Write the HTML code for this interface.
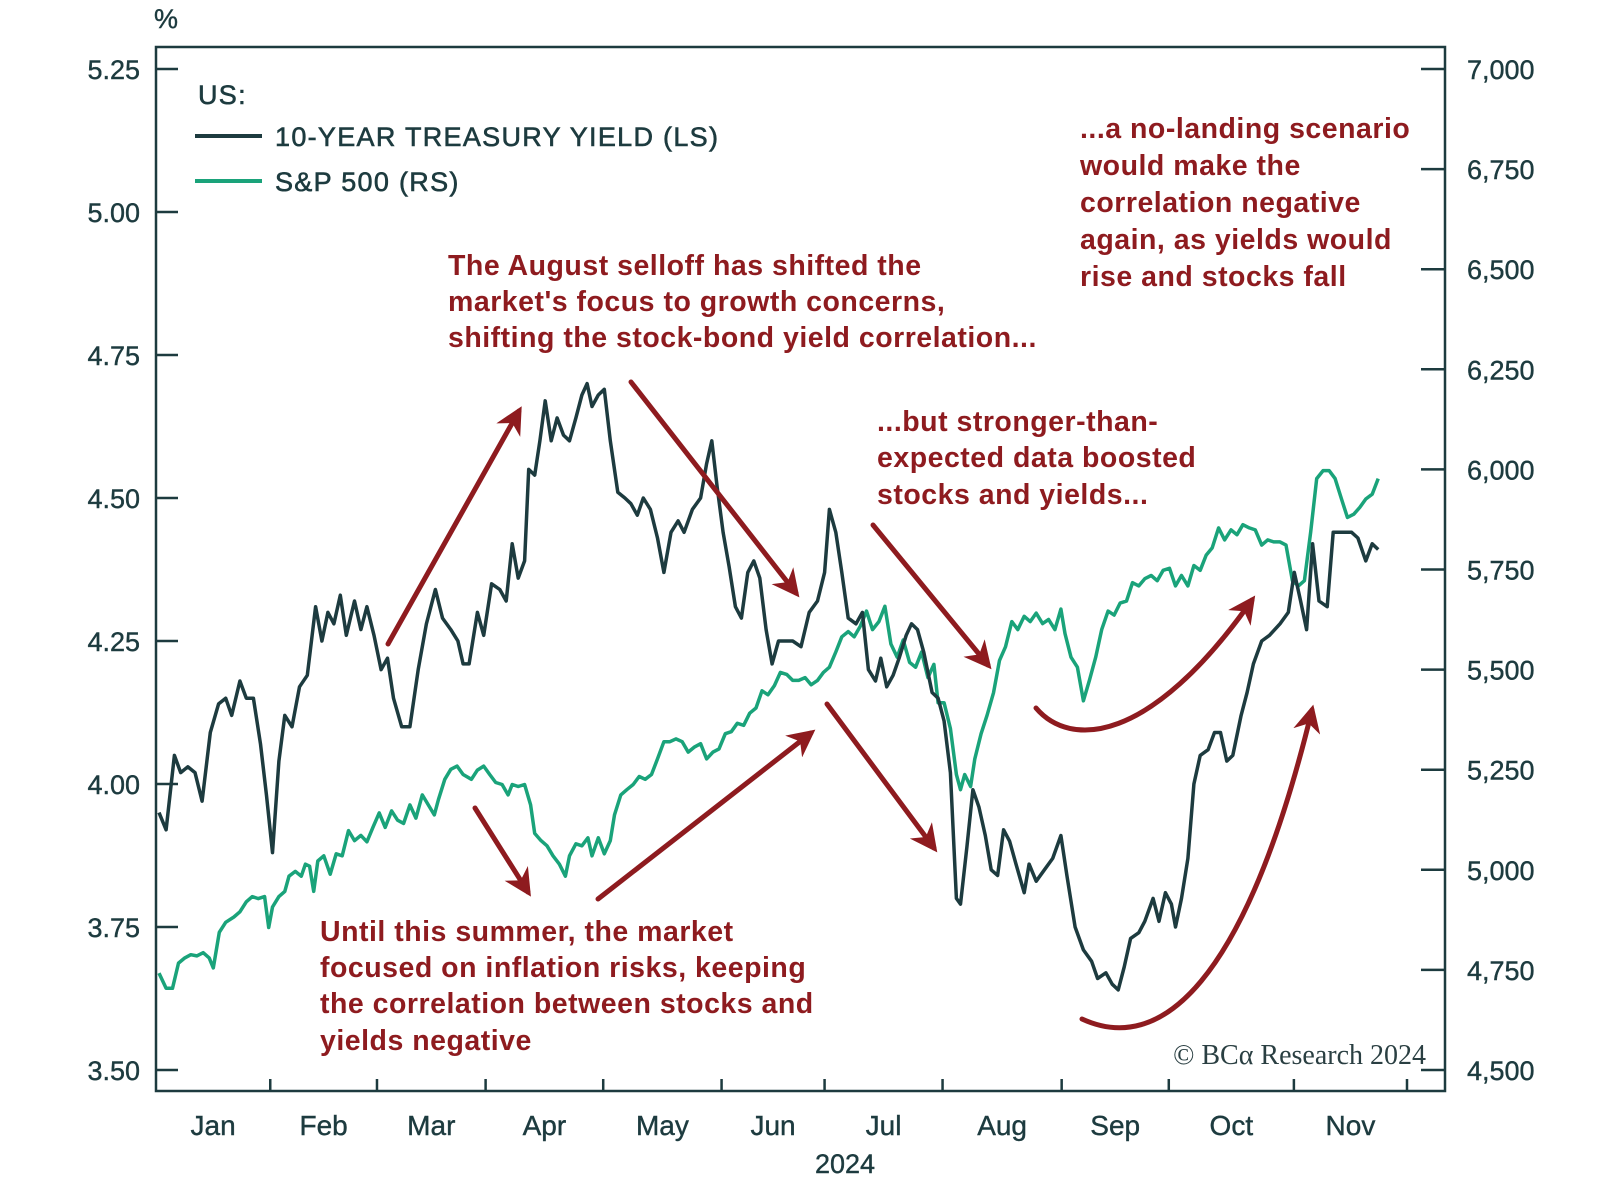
<!DOCTYPE html>
<html><head><meta charset="utf-8">
<style>
html,body{margin:0;padding:0;background:#fff;}
svg{display:block;}
text{font-family:"Liberation Sans",sans-serif;}
.tk{fill:#1d3b3f;font-size:27px;stroke:#1d3b3f;stroke-width:0.4px;}
.ann{fill:#8e1b1f;font-size:28.5px;font-weight:bold;letter-spacing:0.5px;}
.lg{fill:#1d3b3f;font-size:27px;stroke:#1d3b3f;stroke-width:0.6px;letter-spacing:1.3px;}
</style></head>
<body>
<svg id="chart" width="1600" height="1177" viewBox="0 0 1600 1177" xmlns="http://www.w3.org/2000/svg">
<defs>
<marker id="ah" viewBox="0 0 10 10" refX="8" refY="5" markerWidth="5.5" markerHeight="5.5" orient="auto-start-reverse" markerUnits="strokeWidth">
<path d="M0,0 L10,5 L0,10 L3,5 z" fill="#8e1b1f"/>
</marker>
</defs>
<text x="166" y="28" class="tk" text-anchor="middle">%</text>
<rect x="156" y="47" width="1289" height="1044" fill="none" stroke="#1d3b3f" stroke-width="2.5"/>
<g id="axes"></g>
<g id="series"></g>
<g>
<text x="198" y="104" class="lg">US:</text>
<line x1="195" y1="136" x2="262" y2="136" stroke="#1d3b3f" stroke-width="4"/>
<text x="275" y="146" class="lg">10-YEAR TREASURY YIELD (LS)</text>
<line x1="195" y1="181" x2="262" y2="181" stroke="#1aa37a" stroke-width="4"/>
<text x="275" y="191" class="lg">S&amp;P 500 (RS)</text>
</g>
<g>
<text class="ann" x="448" y="275">The August selloff has shifted the</text>
<text class="ann" x="448" y="311">market's focus to growth concerns,</text>
<text class="ann" x="448" y="347">shifting the stock-bond yield correlation...</text>
</g>
<g>
<text class="ann" x="1080" y="138">...a no-landing scenario</text>
<text class="ann" x="1080" y="175">would make the</text>
<text class="ann" x="1080" y="212">correlation negative</text>
<text class="ann" x="1080" y="249">again, as yields would</text>
<text class="ann" x="1080" y="286">rise and stocks fall</text>
</g>
<g>
<text class="ann" x="877" y="431">...but stronger-than-</text>
<text class="ann" x="877" y="467">expected data boosted</text>
<text class="ann" x="877" y="504">stocks and yields...</text>
</g>
<g>
<text class="ann" x="320" y="941">Until this summer, the market</text>
<text class="ann" x="320" y="977">focused on inflation risks, keeping</text>
<text class="ann" x="320" y="1013">the correlation between stocks and</text>
<text class="ann" x="320" y="1050">yields negative</text>
</g>
<text x="1426" y="1064" text-anchor="end" style="font-family:'Liberation Serif',serif;font-size:28px;fill:#2a3f42">© BCα Research 2024</text>
<g fill="none" stroke="#8e1b1f" stroke-width="5" stroke-linecap="round">
<line x1="388" y1="644" x2="519" y2="411" marker-end="url(#ah)"/>
<line x1="631" y1="382" x2="796" y2="593" marker-end="url(#ah)"/>
<line x1="475" y1="808" x2="528" y2="892" marker-end="url(#ah)"/>
<line x1="598" y1="899" x2="811" y2="733" marker-end="url(#ah)"/>
<line x1="827" y1="704" x2="934" y2="848" marker-end="url(#ah)"/>
<line x1="873" y1="525" x2="988" y2="665" marker-end="url(#ah)"/>
<path d="M1036,708 C1070,748 1150,745 1252,600" marker-end="url(#ah)"/>
<path d="M1082,1019 C1160,1055 1245,985 1312,710" marker-end="url(#ah)"/>
</g>
</svg>
<script>
const yieldDays=[0.8,2.7,4.9,6.6,8.5,10.4,12.3,14.5,16.7,18.6,
20.2,22.4,24.1,26.0,27.9,29.5,31.1,32.8,34.4,36.3,
38.3,40.4,42.6,44.3,45.9,47.5,49.2,50.8,53.0,54.7,
56.3,58.2,60.1,61.8,63.4,65.6,67.8,70.0,72.2,74.6,
76.5,78.7,80.6,82.0,83.6,85.8,87.5,89.6,91.8,93.5,
95.1,96.7,98.4,99.5,101.1,102.5,103.9,105.5,107.1,108.8,
110.4,112.1,113.7,115.1,116.4,118.1,119.7,121.3,123.3,125.2,
126.8,128.5,130.1,132.0,133.9,135.6,137.5,139.4,141.0,143.2,
145.4,147.0,148.4,149.8,151.4,153.0,154.7,156.3,158.0,159.6,
161.2,162.9,164.5,166.2,167.8,170.0,172.2,174.4,176.6,178.5,
179.8,181.5,183.1,184.8,186.9,188.6,190.2,192.1,193.5,195.1,
196.8,198.4,200.3,201.7,203.3,205.0,207.2,208.8,210.4,212.1,
213.7,214.8,216.5,218.1,219.7,221.4,223.0,224.7,226.3,227.9,
229.6,231.8,233.1,235.0,237.2,239.4,241.6,243.2,245.4,247.6,
249.8,251.4,253.6,255.3,256.9,258.5,260.2,262.4,264.0,266.2,
267.8,269.5,271.1,272.2,273.8,275.5,277.1,278.8,280.9,282.6,
284.2,285.9,287.5,289.7,291.3,293.0,295.2,297.3,300.1,
302.3,303.9,305.6,307.2,308.8,310.5,312.7,314.3,317.0,319.2,
320.9,323.0,324.7,326.3];
const yieldVals=[3.95,3.92,4.05,4.02,4.03,4.02,3.97,4.09,4.14,4.15,
4.12,4.18,4.15,4.15,4.07,3.98,3.88,4.04,4.12,4.10,
4.17,4.19,4.31,4.25,4.30,4.28,4.33,4.26,4.32,4.27,
4.31,4.26,4.20,4.22,4.15,4.10,4.10,4.20,4.28,4.34,
4.29,4.27,4.25,4.21,4.21,4.30,4.26,4.35,4.34,4.32,
4.42,4.36,4.39,4.55,4.54,4.60,4.67,4.60,4.64,4.61,
4.60,4.64,4.68,4.70,4.66,4.68,4.69,4.60,4.51,4.50,
4.49,4.47,4.50,4.48,4.43,4.37,4.44,4.46,4.44,4.48,
4.50,4.56,4.60,4.52,4.44,4.38,4.31,4.29,4.37,4.39,
4.36,4.27,4.21,4.25,4.25,4.25,4.24,4.30,4.32,4.37,
4.48,4.44,4.37,4.29,4.28,4.30,4.20,4.18,4.22,4.17,
4.19,4.22,4.26,4.28,4.27,4.23,4.16,4.15,4.11,4.02,
3.80,3.79,3.89,3.99,3.96,3.91,3.85,3.84,3.92,3.90,
3.86,3.81,3.86,3.83,3.85,3.87,3.91,3.84,3.75,3.71,
3.69,3.66,3.67,3.65,3.64,3.68,3.73,3.74,3.76,3.80,
3.76,3.81,3.79,3.75,3.80,3.87,4.00,4.05,4.06,4.09,
4.09,4.04,4.05,4.12,4.16,4.21,4.25,4.26,4.28,
4.30,4.37,4.32,4.27,4.42,4.32,4.31,4.44,4.44,4.44,
4.43,4.39,4.42,4.41];
const spDays=[0.8,2.7,4.4,6.0,7.7,9.3,10.9,12.6,14.2,15.3,
16.9,18.6,20.8,22.4,24.1,25.7,27.3,29.0,30.1,31.1,
32.8,34.4,35.5,37.2,38.8,39.9,41.0,42.1,43.2,44.8,
46.5,48.1,49.7,51.4,53.0,54.7,56.3,57.9,59.6,61.2,
62.9,64.5,66.1,67.8,69.4,71.1,72.7,74.3,75.4,77.1,
78.7,80.4,82.0,84.2,85.8,87.5,89.1,90.7,92.4,94.0,
95.1,96.7,98.4,100.0,101.1,102.8,104.4,106.0,107.7,109.3,
110.4,112.1,113.7,115.3,116.4,118.1,119.7,121.3,122.4,124.1,
125.7,127.4,129.0,130.6,132.3,133.9,135.6,137.2,138.8,140.5,
142.1,143.8,145.4,147.0,148.7,150.3,152.0,153.6,155.2,156.9,
158.5,160.2,161.8,163.4,165.1,166.7,168.4,170.0,171.6,173.3,
174.9,176.6,178.2,179.8,181.5,183.1,184.8,186.4,188.0,189.7,
191.3,193.0,194.6,196.2,197.9,199.5,201.2,202.8,204.4,206.1,
207.7,208.8,210.4,212.1,213.7,214.8,215.9,217.5,218.6,220.3,
221.9,223.6,225.2,226.8,228.5,230.1,231.8,233.4,235.0,236.7,
238.3,240.0,241.6,242.7,244.3,246.0,247.6,249.2,250.9,252.5,
254.2,255.8,257.4,259.1,260.7,262.4,264.0,265.7,267.3,268.9,
270.6,272.2,273.8,275.5,277.1,278.8,280.4,282.0,283.7,285.3,
287.0,288.6,290.2,291.9,293.5,295.2,296.8,298.4,300.1,301.7,
303.4,305.0,306.6,308.3,309.9,311.6,313.2,314.8,316.5,318.1,
319.8,321.4,323.0,324.7,326.3];
const spVals=[4742,4704,4704,4767,4780,4788,4785,4793,4780,4755,
4844,4869,4882,4895,4920,4933,4928,4933,4856,4907,
4933,4946,4984,4996,4984,5014,5009,4946,5022,5035,
4989,5040,5035,5098,5073,5086,5070,5106,5142,5106,
5147,5124,5116,5162,5129,5187,5162,5137,5175,5226,
5251,5259,5238,5226,5249,5259,5238,5218,5213,5187,
5213,5208,5213,5162,5091,5073,5060,5035,5014,4984,
5035,5065,5060,5080,5035,5080,5040,5073,5137,5187,
5200,5213,5233,5226,5238,5277,5320,5320,5327,5320,
5294,5307,5315,5277,5294,5302,5340,5345,5366,5361,
5391,5404,5447,5437,5460,5493,5488,5473,5473,5480,
5462,5473,5493,5506,5544,5582,5595,5582,5608,5646,
5600,5620,5658,5564,5531,5574,5518,5506,5544,5480,
5513,5417,5417,5353,5238,5200,5238,5208,5277,5340,
5386,5442,5523,5557,5620,5600,5633,5620,5641,5615,
5625,5600,5651,5590,5531,5506,5422,5473,5531,5600,
5646,5636,5666,5671,5717,5709,5727,5735,5722,5748,
5753,5709,5735,5709,5760,5748,5786,5804,5854,5824,
5849,5837,5862,5854,5849,5811,5824,5819,5819,5811,
5722,5709,5722,5844,5977,5997,5997,5977,5926,5880,
5888,5905,5926,5938,5977];
const leftTicks=[3.50,3.75,4.00,4.25,4.50,4.75,5.00,5.25];
const leftTickLabels=["3.50","3.75","4.00","4.25","4.50","4.75","5.00","5.25"];
const rightTicks=[4500,4750,5000,5250,5500,5750,6000,6250,6500,6750,7000];
const rightTickLabels=["4,500","4,750","5,000","5,250","5,500","5,750","6,000","6,250","6,500","6,750","7,000"];
const monthTickDays=[0,30.5,59,88,119.4,151,178.5,210,241.8,270.4,303.8,334];
const monthLabels=["Jan","Feb","Mar","Apr","May","Jun","Jul","Aug","Sep","Oct","Nov"];

const NS="http://www.w3.org/2000/svg";
const X0=156,X1=1407,D1=334;
const YT=69,YB=1070;
function xScale(d){return X0+(d/D1)*(X1-X0);}
function yLeft(v){return YB-(v-3.5)/(5.25-3.5)*(YB-YT);}
function yRight(v){return YB-(v-4500)/(7000-4500)*(YB-YT);}
function mk(tag,attrs,parent){const e=document.createElementNS(NS,tag);for(const k in attrs)e.setAttribute(k,attrs[k]);parent.appendChild(e);return e;}
const axes=document.getElementById('axes');
const series=document.getElementById('series');
leftTicks.forEach((v,i)=>{
  const y=yLeft(v);
  const l=mk('line',{x1:156,y1:y,x2:178,y2:y,stroke:'#1d3b3f','stroke-width':2.5},axes);
  
  
  const t=mk('text',{x:140,y:y+10,'text-anchor':'end',class:'tk'},axes);
  t.textContent=leftTickLabels[i];
  
  
});
rightTicks.forEach((v,i)=>{
  const y=yRight(v);
  const l=mk('line',{x1:1421,y1:y,x2:1445,y2:y,stroke:'#1d3b3f','stroke-width':2.5},axes);
  
  
  const t=mk('text',{x:1467,y:y+10,class:'tk'},axes);
  t.textContent=rightTickLabels[i];
  
  
});
monthTickDays.forEach((d,i)=>{
  const x=xScale(d);
  if(i>0){
    const l=mk('line',{x1:x,y1:1091,x2:x,y2:1079,stroke:'#1d3b3f','stroke-width':2.5},axes);
    
    
  }
  if(i<monthLabels.length){
    const xm=(xScale(d)+xScale(monthTickDays[i+1]))/2;
    const t=mk('text',{x:xm,y:1135,'text-anchor':'middle',class:'tk',style:'font-size:28px'},axes);
    t.textContent=monthLabels[i];
    
    
  }
});
const yr=mk('text',{x:845,y:1173,'text-anchor':'middle',class:'tk',style:'font-size:27px'},axes);
yr.textContent='2024';



function path(days,vals,ys){return days.map((d,i)=>(i?'L':'M')+xScale(d).toFixed(1)+','+ys(vals[i]).toFixed(1)).join(' ');}
const sp=mk('path',{d:path(spDays,spVals,yRight),fill:'none',stroke:'#1aa37a','stroke-width':3.5,'stroke-linejoin':'round'},series);


const yl=mk('path',{d:path(yieldDays,yieldVals,yLeft),fill:'none',stroke:'#1d3b3f','stroke-width':3.5,'stroke-linejoin':'round'},series);


</script>
</body></html>
